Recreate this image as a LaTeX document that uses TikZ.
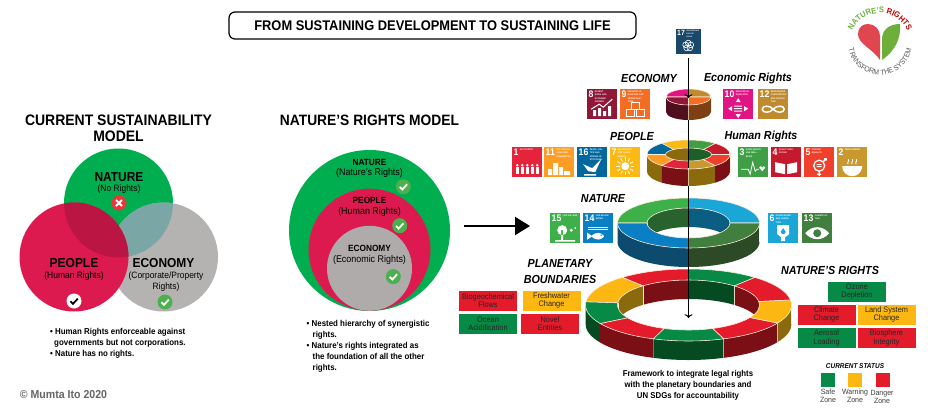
\documentclass[tikz,border=0pt]{standalone}
\usepackage{fontspec}
\setmainfont{Liberation Sans}[FakeStretch=0.92]
\usepackage{tikz}
\usetikzlibrary{arrows.meta,decorations.text}

\definecolor{natgreen}{HTML}{00AE4F}
\definecolor{peoplered}{HTML}{DC1A4F}
\definecolor{econgrey}{HTML}{B5B3B1}
\definecolor{midgrey}{HTML}{AFABAB}
\definecolor{okgreen}{HTML}{4CB04F}
\definecolor{badred}{HTML}{E8373C}
\definecolor{stgreen}{HTML}{068A45}
\definecolor{stamber}{HTML}{FDB713}
\definecolor{stred}{HTML}{E31B2A}
\definecolor{grnd}{HTML}{064A22}
\definecolor{ambd}{HTML}{8A6A0C}
\definecolor{redd}{HTML}{7A1016}
\definecolor{tealwall}{HTML}{0B5D82}
\definecolor{leafwall}{HTML}{27622F}
\definecolor{navyside}{HTML}{0C4A6E}
\definecolor{mossside}{HTML}{2C4A25}
\definecolor{pinewall}{HTML}{1D5F28}
\definecolor{wineside}{HTML}{4F0F1E}
\definecolor{brownside}{HTML}{7D3F13}
\definecolor{logored}{HTML}{E04650}
\definecolor{logogreen}{HTML}{6EAF3C}
\definecolor{sdg1}{HTML}{E5243B}
\definecolor{sdg2}{HTML}{C9992F}
\definecolor{sdg3}{HTML}{3F9F44}
\definecolor{sdg4}{HTML}{C5192D}
\definecolor{sdg5}{HTML}{F0402B}
\definecolor{sdg6}{HTML}{1AA7D8}
\definecolor{sdg7}{HTML}{FCB913}
\definecolor{sdg8}{HTML}{8F1838}
\definecolor{sdg9}{HTML}{F36D25}
\definecolor{sdg10}{HTML}{E11484}
\definecolor{sdg11}{HTML}{FD9D24}
\definecolor{sdg12}{HTML}{BF8B2E}
\definecolor{sdg13}{HTML}{407F3E}
\definecolor{sdg14}{HTML}{0A7FC4}
\definecolor{sdg15}{HTML}{3EB049}
\definecolor{sdg16}{HTML}{00689D}
\definecolor{sdg17}{HTML}{19486A}

\tikzset{
  titlebox/.style={draw, line width=1.2pt, rounded corners=6pt, minimum width=407pt, minimum height=27pt, inner sep=0pt, font=\fontsize{14}{16}\selectfont\bfseries},
  head/.style={inner sep=0pt, align=center, font=\fontsize{15.2}{16}\selectfont\bfseries},
  big/.style={inner sep=0pt, font=\fontsize{13}{15}\selectfont\bfseries},
  small/.style={inner sep=0pt, align=center, font=\fontsize{9.2}{11}\selectfont},
  mid/.style={inner sep=0pt, font=\fontsize{9}{11}\selectfont\bfseries},
  midsmall/.style={inner sep=0pt, font=\fontsize{9.7}{11}\selectfont},
  notes/.style={inner sep=0pt, anchor=north west, align=left, font=\fontsize{8.6}{10.9}\selectfont\bfseries},
  ringhead/.style={inner sep=0pt, font=\fontsize{11.7}{15}\selectfont\bfseries\itshape},
  statusbox/.style={minimum width=58pt, minimum height=20pt, inner sep=0pt, align=center, text=black!85, font=\fontsize{8}{8.2}\selectfont},
  zonebox/.style={minimum size=14.5pt, inner sep=0pt},
  zonetext/.style={inner sep=0pt, align=center, text=black!75, font=\fontsize{7.6}{8}\selectfont},
  sdgtile/.style={minimum size=30pt, inner sep=0pt, anchor=north west},
  sdgnum/.style={inner sep=0pt, anchor=north west, text=white, font=\fontsize{9.5}{10}\selectfont\bfseries},
  sdgtxt/.style={inner sep=0pt, anchor=north west, text=white, text width=16pt, align=left, font=\fontsize{2.2}{3.5}\selectfont\bfseries},
  ringseam/.style={draw=white!85!orange, line width=.55pt},
  checkbadge/.pic={\fill[okgreen] circle (7.5); \draw[white, line width=1.8pt] (-3.6,-.2) -- (-1,-2.8) -- (3.8,2.4);},
  whitebadge/.pic={\fill[white] circle (7.5); \draw[black, line width=1.8pt] (-3.6,-.2) -- (-1,-2.8) -- (3.8,2.4);},
  crossbadge/.pic={\fill[badred] circle (7.5); \draw[white, line width=1.8pt] (-3,-3) -- (3,3) (-3,3) -- (3,-3);},
  icon1/.pic={\foreach \a in {-10,-5,0,5,10} {\fill[white] (\a,-3) circle (1.4); \fill[white] (\a-1.6,-12) rectangle (\a+1.6,-5);}},
  icon2/.pic={\fill[white] (-10,-4) arc[start angle=180, end angle=360, radius=10] -- cycle;
    \foreach \a in {-4,0,4} {\draw[white, line width=.8pt] (\a,-2) .. controls (\a-2,0) and (\a+2,1) .. (\a,3);}},
  icon3/.pic={\draw[white, line width=.8pt] (-12,-7) -- (-5,-7) -- (-3,-12) -- (-.5,0) -- (2,-9) -- (4,-7) -- (6,-7);
    \fill[white] (9,-9) -- (6,-5.5) arc[start angle=180, end angle=0, radius=1.5] arc[start angle=180, end angle=0, radius=1.5] -- cycle;},
  icon4/.pic={\fill[white] (-11,0) -- (-1,-2) -- (-1,-12) -- (-11,-10) -- cycle (11,0) -- (1,-2) -- (1,-12) -- (11,-10) -- cycle;},
  icon5/.pic={\draw[white, line width=1.3pt] (0,-3.5) circle (5.5) (0,-9) -- (0,-14) (-2,-12) -- (2,-12) (4,.5) -- (7,3.5) (5,3.5) -- (7,3.5) -- (7,1.5);
    \fill[white] (-2.5,-3) rectangle (2.5,-1.9) (-2.5,-5) rectangle (2.5,-3.9);},
  icon6/.pic={\fill[white] (-6,3) -- (6,3) -- (6,-6) -- (2,-9) -- (2,-13) -- (-2,-13) -- (-2,-9) -- (-6,-6) -- cycle;
    \fill[sdg6] (0,0) -- (2.5,-3.5) arc[start angle=0, end angle=-180, radius=2.5] -- cycle;},
  icon7/.pic={\fill[white] (0,-4) circle (4); \foreach \a in {0,30,...,330} {\draw[white, line width=.8pt] ([shift={(0,-4)}]\a:5.5) -- ([shift={(0,-4)}]\a:9);}},
  icon8/.pic={\fill[white] (-9,-12) rectangle (-6,-6) (-4,-12) rectangle (-1,-4) (1,-12) rectangle (4,-7) (6,-12) rectangle (9,-2);
    \draw[white, line width=1pt] (-11,-5) -- (-3,0) -- (1,-3) -- (10,5);},
  icon9/.pic={\draw[white, line width=.9pt] (-9,-12) rectangle (-1,-5) (1,-12) rectangle (9,-5) (-4,-5) rectangle (4,2);},
  icon10/.pic={\fill[white] (-4,-2.5) rectangle (4,-1.3) (-4,-5) rectangle (4,-3.8) (-4,-7.5) rectangle (4,-6.3)
    (0,6) -- (2.5,2) -- (-2.5,2) -- cycle (0,-14) -- (2.5,-10) -- (-2.5,-10) -- cycle
    (-10,-4.5) -- (-6,-2) -- (-6,-7) -- cycle (10,-4.5) -- (6,-2) -- (6,-7) -- cycle;},
  icon11/.pic={\fill[white] (-11,-13) rectangle (-7,-7) (-6,-13) rectangle (-1,-1) (0,-13) rectangle (4,-5) (5,-13) rectangle (11,-9);},
  icon12/.pic={\draw[white, line width=1.5pt] (0,-5) .. controls (3,-1) and (11,-1) .. (11,-5) .. controls (11,-9) and (3,-9) .. (0,-5) .. controls (-3,-1) and (-11,-1) .. (-11,-5) .. controls (-11,-9) and (-3,-9) .. (0,-5);},
  icon13/.pic={\fill[white] (-12,-5) .. controls (-5,3) and (5,3) .. (12,-5) .. controls (5,-13) and (-5,-13) .. (-12,-5) -- cycle; \fill[sdg13] (0,-5) circle (4);},
  icon14/.pic={\fill[white] (-7,-8) .. controls (-2,-3) and (3,-4) .. (6,-8) .. controls (3,-12) and (-2,-13) .. (-7,-8) -- cycle (-11,-4.5) -- (-6,-8) -- (-11,-11.5) -- cycle;
    \fill[sdg14] (3,-7) circle (.8); \draw[white, line width=.7pt] (-10,1) -- (10,1) (-10,-1.5) -- (10,-1.5);},
  icon15/.pic={\fill[white] (-3,-2) circle (5) (-4,-13) rectangle (-2,-2) (-10,-13.5) rectangle (10,-12); \fill[white] (6,-2) circle (1.6) (10,0) circle (1);},
  icon16/.pic={\fill[white] (-9,-2) -- (0,-6) -- (9,3) -- (3,-10) -- (-4,-9) -- cycle (-8,-12) rectangle (4,-13.5);},
  icon17/.pic={\foreach \a in {90,162,...,378} {\draw[white, line width=.6pt] ([shift={(0,-5)}]\a:3.5) circle (3.5);}},
}

\newcommand{\ringwall}[6]{
  \fill[#6] (#4:#1 and #2) arc[start angle=#4, end angle=#5, x radius=#1, y radius=#2] -- ++(0,-#3) arc[start angle=#5, end angle=#4, x radius=#1, y radius=#2] -- cycle;
  \draw[ringseam] (#5:#1 and #2) -- ++(0,-#3);
}
\newcommand{\ringface}[7]{
  \filldraw[fill=#7, ringseam] (#5:#3 and #4) arc[start angle=#5, end angle=#6, x radius=#3, y radius=#4] -- (#6:#1 and #2) arc[start angle=#6, end angle=#5, x radius=#1, y radius=#2] -- cycle;
}
\newcommand{\logofont}{\fontsize{8.2}{9}\selectfont}

\begin{document}
\begin{tikzpicture}[x=1pt, y=1pt]
  \useasboundingbox (0,0) rectangle (928,-410);
  \fill[white] (0,0) rectangle (928,-410);

  \node[titlebox] (title) at (432.5,-25.5) {FROM SUSTAINING DEVELOPMENT TO SUSTAINING LIFE};

  % current model
  \node[head] (curhead) at (118.5,-128) {CURRENT SUSTAINABILITY\\MODEL};
  \fill[natgreen] (118.5,-203) circle (54.5);
  \fill[econgrey] (163.5,-257) circle (54.5);
  \begin{scope}
    \clip (118.5,-203) circle (54.5);
    \fill[white!20!teal!45!econgrey] (163.5,-257) circle (54.5);
  \end{scope}
  \fill[peoplered] (74,-257) circle (54.5);
  \begin{scope}
    \clip (118.5,-203) circle (54.5);
    \fill[peoplered!85!black] (74,-257) circle (54.5);
  \end{scope}
  \node[big] (curnature) at (119,-177) {NATURE};
  \node[small] (curnorights) at (119,-189.5) {(No Rights)};
  \pic at (119,-203) {crossbadge};
  \node[big] (curpeople) at (74,-263) {PEOPLE};
  \node[small] (curhuman) at (74,-276) {(Human Rights)};
  \pic at (74,-301) {whitebadge};
  \node[big] (curecon) at (163.5,-263) {ECONOMY};
  \node[small] (curcorp) at (166,-281.5) {(Corporate/Property\\Rights)};
  \pic at (165,-302) {checkbadge};
  \node[notes] (curnotes) at (50,-328) {\textbullet{} Human Rights enforceable against\\[0pt]\hspace*{4pt}governments but not corporations.\\\textbullet{} Nature has no rights.};
  \node[inner sep=0pt, text=black!60, font=\fontsize{11.5}{12}\selectfont\bfseries] (copyr) at (63.5,-395) {© Mumta Ito 2020};

  % nested model
  \node[head, font=\fontsize{15}{16}\selectfont\bfseries] (nesthead) at (369.5,-120) {NATURE'S RIGHTS MODEL};
  \fill[natgreen] (369.5,-230.5) circle (80.5);
  \fill[peoplered] (369.5,-249.7) circle (61);
  \fill[midgrey] (369.5,-268.3) circle (42.5);
  \node[mid] (nestnature) at (369.5,-162) {NATURE};
  \node[midsmall] (nestnatr) at (369.5,-173) {(Nature's Rights)};
  \pic at (403.3,-186.7) {checkbadge};
  \node[mid] (nestpeople) at (369.5,-200.7) {PEOPLE};
  \node[midsmall] (nesthuman) at (369.5,-211.5) {(Human Rights)};
  \pic at (399.7,-225.7) {checkbadge};
  \node[mid] (nestecon) at (369.5,-248.7) {ECONOMY};
  \node[midsmall] (nestrights) at (369.5,-259.7) {(Economic Rights)};
  \pic at (393.3,-276.7) {checkbadge};
  \node[notes] (nestnotes) at (306.5,-320) {\textbullet{} Nested hierarchy of synergistic\\\hspace*{6pt}rights.\\\textbullet{} Nature's rights integrated as\\\hspace*{6pt}the foundation of all the other\\\hspace*{6pt}rights.};

  \coordinate (arrowfrom) at (464,-226);
  \coordinate (arrowto) at (530,-226);
  \draw[-{Triangle[length=15pt, width=18pt]}, line width=2pt] (arrowfrom) -- (arrowto);

  % rings, lowest first
  \begin{scope}[shift={(688.5,-305)}]
    \foreach \a/\b/\c in {0/8/ambd, 8/50/redd, 50/90/grnd, 90/130/redd, 130/175/ambd, 175/180/grnd} {\ringwall{71}{25}{19}{\a}{\b}{\c}}
    \foreach \a/\b/\c in {180/211/grnd, 211/250/redd, 250/290/grnd, 290/330/redd, 330/360/ambd} {\ringwall{103}{36}{19}{\a}{\b}{\c}}
    \foreach \a/\b/\c in {8/50/stred, 50/90/stgreen, 90/130/stred, 130/175/stamber, 175/211/stgreen, 211/250/stred, 250/290/stgreen, 290/330/stred, 330/368/stamber} {\ringface{71}{25}{103}{36}{\a}{\b}{\c}}
  \end{scope}
  \begin{scope}[shift={(688.5,-223)}]
    \foreach \a/\b/\c in {0/90/tealwall, 90/180/leafwall} {\ringwall{41.5}{15}{19}{\a}{\b}{\c}}
    \foreach \a/\b/\c in {180/270/navyside, 270/360/mossside} {\ringwall{71}{25}{19}{\a}{\b}{\c}}
    \foreach \a/\b/\c in {0/90/sdg6, 90/180/sdg15, 180/270/sdg14, 270/360/sdg13} {\ringface{41.5}{15}{71}{25}{\a}{\b}{\c}}
  \end{scope}
  \begin{scope}[shift={(688.5,-154.5)}]
    \foreach \a/\b/\c in {0/90/pinewall, 90/180/ambd} {\ringwall{23}{6.5}{17}{\a}{\b}{\c}}
    \foreach \a/\b/\c in {180/230/ambd, 230/270/redd, 270/310/ambd, 310/360/redd} {\ringwall{41.5}{14.5}{17}{\a}{\b}{\c}}
    \foreach \a/\b/\c in {0/50/sdg4, 50/90/sdg3, 90/130/sdg7, 130/180/sdg16, 180/230/sdg11, 230/270/sdg1, 270/310/sdg2, 310/360/sdg5} {\ringface{23}{6.5}{41.5}{14.5}{\a}{\b}{\c}}
  \end{scope}
  \begin{scope}[shift={(688.5,-97)}]
    \foreach \a/\b/\c in {180/270/wineside, 270/360/brownside} {\ringwall{22.5}{8}{15}{\a}{\b}{\c}}
    \foreach \a/\b/\c in {0/90/sdg12, 90/180/sdg10, 180/270/sdg8, 270/360/sdg9} {\ringface{.01}{.01}{22.5}{8}{\a}{\b}{\c}}
  \end{scope}

  % line through the rings
  \coordinate (linetop) at (688.5,-58);
  \coordinate (linedisc) at (688.5,-98);
  \coordinate (lineupper) at (688.5,-120);
  \coordinate (linefront) at (688.5,-168);
  \coordinate (linelower) at (688.5,-186);
  \coordinate (lineend) at (688.5,-318);
  \draw[->, line width=1pt] (linetop) -- (linedisc);
  \draw[line width=1pt] (lineupper) -- (linefront);
  \draw[->, line width=1pt] (linelower) -- (lineend);

  % goal tiles
  \foreach \n/\x/\y/\lab in {8/587/89/{DECENT WORK AND ECONOMIC GROWTH}, 9/620/89/{INDUSTRY, INNOVATION AND INFRASTRUCTURE}, 10/723/89/{REDUCED INEQUALITIES}, 12/758/89/{RESPONSIBLE CONSUMPTION AND PRODUCTION},
    1/512/147/{NO POVERTY}, 11/544/147/{SUSTAINABLE CITIES AND COMMUNITIES}, 16/577/147/{PEACE, JUSTICE AND STRONG INSTITUTIONS}, 7/610/147/{AFFORDABLE AND CLEAN ENERGY},
    3/738/147/{GOOD HEALTH AND WELL-BEING}, 4/771/147/{QUALITY EDUCATION}, 5/804/147/{GENDER EQUALITY}, 2/837/147/{ZERO HUNGER},
    15/550/213/{LIFE ON LAND}, 14/583/213/{LIFE BELOW WATER}, 6/768/213/{CLEAN WATER AND SANITATION}, 13/802/213/{CLIMATE ACTION}} {
    \node[sdgtile, fill=sdg\n] (sdg\n) at (\x,-\y) {};
    \node[sdgnum] (num\n) at ([shift={(1.5,-1.5)}]sdg\n.north west) {\n};
    \node[sdgtxt] (txt\n) at ([xshift=1pt]num\n.north east) {\lab};
    \pic at (sdg\n.center) {icon\n};
  }
  \node[sdgtile, minimum size=25pt, fill=sdg17] (sdg17) at (675.5,-29) {};
  \node[sdgnum, font=\fontsize{7.5}{8}\selectfont\bfseries] (num17) at ([shift={(1.5,-1.5)}]sdg17.north west) {17};
  \node[sdgtxt, text width=12pt, font=\fontsize{1.8}{3}\selectfont\bfseries] (txt17) at ([xshift=1pt]num17.north east) {PARTNERSHIPS FOR THE GOALS};
  \pic[scale=.8] at (sdg17.center) {icon17};

  \node[ringhead] (heconomy) at (649,-78) {ECONOMY};
  \node[ringhead] (heconrights) at (748,-78) {Economic Rights};
  \node[ringhead] (hpeople) at (632,-136) {PEOPLE};
  \node[ringhead] (hhuman) at (761,-136) {Human Rights};
  \node[ringhead] (hnature) at (603,-199) {NATURE};
  \node[ringhead, align=center, font=\fontsize{11.7}{16}\selectfont\bfseries\itshape] (hplanet) at (560,-272) {PLANETARY\\BOUNDARIES};
  \node[ringhead] (hnatrights) at (830,-270) {NATURE'S RIGHTS};

  % boundary boxes
  \node[statusbox, fill=stred] (biogeo) at (488,-300.5) {Biogeochemical\\Flows};
  \node[statusbox, fill=stamber] (fresh) at (551.5,-300.5) {Freshwater\\Change};
  \node[statusbox, fill=stgreen] (ocean) at (488,-324) {Ocean\\Acidification};
  \node[statusbox, fill=stred] (novel) at (550,-324) {Novel\\Entities};
  \node[statusbox, fill=stgreen] (ozone) at (857,-291.5) {Ozone\\Depletion};
  \node[statusbox, fill=stred] (climate) at (826.5,-314.5) {Climate\\Change};
  \node[statusbox, fill=stamber] (landsys) at (886.5,-314.5) {Land System\\Change};
  \node[statusbox, fill=stgreen] (aerosol) at (826.5,-338) {Aerosol\\Loading};
  \node[statusbox, fill=stred] (biosph) at (886.5,-338) {Biosphere\\Integrity};

  \node[small, font=\fontsize{8.5}{10.9}\selectfont\bfseries] (framework) at (688,-385) {Framework to integrate legal rights\\with the planetary boundaries and\\UN SDGs for accountability};

  % status key
  \node[inner sep=0pt, font=\fontsize{7}{8}\selectfont\bfseries\itshape] (status) at (855,-366) {CURRENT STATUS};
  \node[zonebox, fill=stgreen] (safe) at (828,-380) {};
  \node[zonebox, fill=stamber] (warn) at (855,-380) {};
  \node[zonebox, fill=stred] (danger) at (883,-380) {};
  \node[zonetext] (safetxt) at (828,-396) {Safe\\Zone};
  \node[zonetext] (warntxt) at (855,-396) {Warning\\Zone};
  \node[zonetext] (dangertxt) at (882,-397) {Danger\\Zone};

  % logo
  \fill[logored] (880,-60) .. controls (873,-49) and (858,-44) .. (858,-34) .. controls (858,-27) and (863,-24) .. (868,-24) .. controls (875,-24) and (880,-30) .. (880,-36) -- cycle;
  \fill[logogreen] (882,-60) -- (882,-37) .. controls (883,-30) and (889,-24) .. (900,-24) .. controls (901,-38) and (896,-50) .. (882,-60) -- cycle;
  \path[decorate, decoration={text along path, text align=center, text={|\logofont\bfseries\color{logogreen}|NATURE'S |\logofont\bfseries\color{red!75!black}|RIGHTS}}] (172:30) ++(880,-43) arc[start angle=172, end angle=8, radius=30];
  \path[decorate, decoration={text along path, text align=center, text={|\fontsize{7.4}{8}\selectfont\color{black!65}|TRANSFORM THE SYSTEM}}] (185:32) ++(880,-43) arc[start angle=185, end angle=355, radius=32];
\end{tikzpicture}
\end{document}
